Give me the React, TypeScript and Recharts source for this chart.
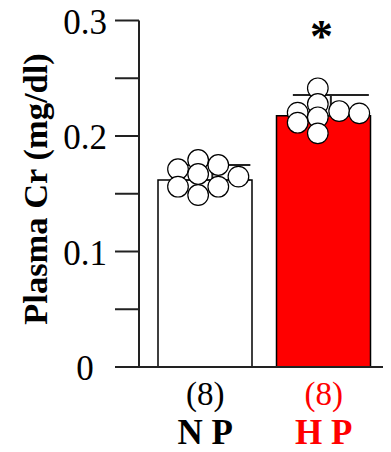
import { Bar, ComposedChart, ErrorBar, LabelList, Scatter, XAxis, YAxis } from "recharts";

const groups = ["N P", "H P"];
const counts = [8, 8];
const means = [0.162, 0.2176];
const upperSd = [0.0129, 0.0179];
const marks = ["", "*"];
const colors = ["#ffffff", "#ff0000"];
const labelColors = ["#000000", "#ff0000"];

const yTicks = [0, 0.05, 0.1, 0.15, 0.2, 0.25, 0.3];

// individual animals (x is a jitter position on a hidden 0..2 axis)
const npX = [0.27, 0.27, 0.44, 0.44, 0.44, 0.61, 0.61, 0.78];
const npY = [0.1712, 0.1561, 0.1792, 0.1671, 0.1489, 0.1749, 0.1561, 0.1648];
const hpX = [1.45, 1.45, 1.45, 1.45, 1.28, 1.28, 1.63, 1.8];
const hpY = [0.2413, 0.2277, 0.2162, 0.2023, 0.2202, 0.2115, 0.2216, 0.2196];

const errX = [0.56, 1.56];

const barData = groups.map((g, i) => ({
  name: g,
  value: means[i],
  n: counts[i],
  mark: marks[i],
  fill: colors[i],
}));

// error bar sits on the bar top, the lower cap hides in the bar outline
const errData = groups.map((g, i) => ({
  x: errX[i],
  y: means[i],
  err: [0, upperSd[i]],
}));

const npPoints = npX.map((x, i) => ({ x, y: npY[i] }));
const hpPoints = hpX.map((x, i) => ({ x, y: hpY[i] }));

const FONT = "'Liberation Serif', 'Times New Roman', serif";

function YTick(props: any) {
  const { x, y, payload } = props;
  const v = payload.value;
  if (Math.abs(v * 10 - Math.round(v * 10)) > 1e-6) return null;
  return (
    <text x={x - 28} y={y + 13} textAnchor="middle" fontFamily={FONT} fontSize={35} fill="#000">
      {v === 0 ? "0" : v.toFixed(1)}
    </text>
  );
}

function XTick(props: any) {
  const { x, y, index } = props;
  const c = labelColors[index];
  return (
    <g>
      <text x={x} y={y + 38} textAnchor="middle" fontFamily={FONT} fontSize={33} fill={c}>
        ({counts[index]})
      </text>
      <text x={x} y={y + 77} textAnchor="middle" fontFamily={FONT} fontSize={35} fontWeight="bold" fill={c}>
        {groups[index]}
      </text>
    </g>
  );
}

function Dot(props: any) {
  return <circle cx={props.cx} cy={props.cy} r={10.3} fill="#fff" stroke="#000" strokeWidth={1.2} />;
}

function Star(props: any) {
  const { x, y, width, value } = props;
  if (!value) return null;
  return (
    <text x={x + width / 2 - 2} y={y - 64} textAnchor="middle" fontFamily={FONT} fontSize={46} fontWeight="bold" fill="#000">
      {value}
    </text>
  );
}

export default function App() {
  return (
    <ComposedChart
      width={391}
      height={452}
      data={barData}
      margin={{ top: 20.5, right: 0, bottom: 0, left: 0 }}
      style={{ margin: "-8px" }}
    >
      <XAxis
        dataKey="name"
        xAxisId="cat"
        height={85}
        tickLine={false}
        tickSize={0}
        tickMargin={0}
        padding={{ left: 7, right: 8 }}
        stroke="#222"
        strokeWidth={2}
        tick={<XTick />}
      />
      <XAxis xAxisId="pts" type="number" dataKey="x" domain={[0, 2]} padding={{ left: 7, right: 8 }} hide />
      <YAxis
        width={139}
        domain={[0, 0.3]}
        ticks={yTicks}
        tickSize={24}
        interval={0}
        stroke="#222"
        strokeWidth={2}
        tick={<YTick />}
      />
      <text x={47} y={189} transform="rotate(-90 47 189)" textAnchor="middle" fontFamily={FONT} fontSize={34.5} fontWeight="bold">
        Plasma Cr (mg/dl)
      </text>
      <Bar dataKey="value" xAxisId="cat" barSize={94} stroke="#000" strokeWidth={1.5} isAnimationActive={false}>
        <LabelList dataKey="mark" content={<Star />} />
      </Bar>
      <Scatter data={errData} dataKey="y" xAxisId="pts" shape={() => <g />} isAnimationActive={false}>
        <ErrorBar dataKey="err" direction="y" width={38} stroke="#222" strokeWidth={2} isAnimationActive={false} />
      </Scatter>
      <Scatter data={npPoints} dataKey="y" xAxisId="pts" shape={<Dot />} isAnimationActive={false} />
      <Scatter data={hpPoints} dataKey="y" xAxisId="pts" shape={<Dot />} isAnimationActive={false} />
    </ComposedChart>
  );
}
